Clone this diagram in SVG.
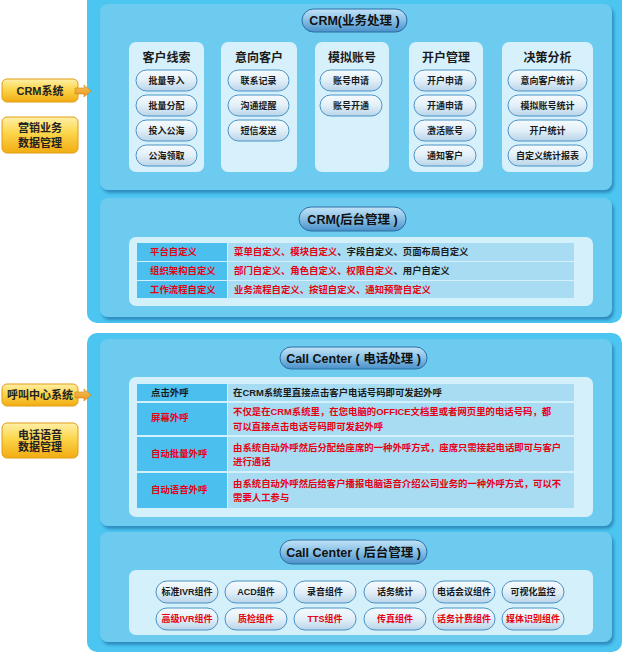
<svg xmlns="http://www.w3.org/2000/svg" width="623" height="654" viewBox="0 0 623 654">
<defs>
<linearGradient id="gBtn" x1="0" y1="0" x2="0" y2="1"><stop offset="0" stop-color="#f6fbfe"/><stop offset="0.5" stop-color="#e2eff8"/><stop offset="1" stop-color="#b9d4e9"/></linearGradient>
<linearGradient id="gPill" x1="0" y1="0" x2="0" y2="1"><stop offset="0" stop-color="#c2e3f7"/><stop offset="0.5" stop-color="#86bfe6"/><stop offset="1" stop-color="#4a90c9"/></linearGradient>
<linearGradient id="gLbl" x1="0" y1="0" x2="0" y2="1"><stop offset="0" stop-color="#fff0a8"/><stop offset="0.45" stop-color="#fbd54a"/><stop offset="1" stop-color="#f2ac12"/></linearGradient>
<linearGradient id="gArr" x1="0" y1="0" x2="0" y2="1"><stop offset="0" stop-color="#f7c259"/><stop offset="1" stop-color="#e8951a"/></linearGradient>
<filter id="sh" x="-5%" y="-5%" width="112%" height="115%"><feDropShadow dx="2" dy="3" stdDeviation="1.6" flood-color="#2379ad" flood-opacity="0.75"/></filter>
</defs>
<style>
text{font-family:"Liberation Sans","Noto Sans CJK SC",sans-serif;font-weight:bold;}
.outer{fill:#4cc5f1;}
.inner{fill:#6ccbef;filter:url(#sh);}
.box{fill:#d4f0fb;}
.card{fill:#d7f1fc;}
.btn{fill:url(#gBtn);stroke:#4a92c4;stroke-width:1;}
.pill{fill:url(#gPill);stroke:#2c6ea6;stroke-width:1;}
.lbl{fill:url(#gLbl);stroke:#e29c12;stroke-width:1;}
.lc{fill:#4bbfee;}
.rc{fill:#a7dcf3;}
.h{font-size:12px;fill:#1a1a1a;text-anchor:middle;}
.pt{font-size:12.5px;fill:#111;text-anchor:middle;}
.bt{font-size:9px;fill:#1a1a1a;text-anchor:middle;}
.bt.r{fill:#e60012;}
.tt{font-size:9.4px;fill:#1a1a1a;}
.r{fill:#e60012;}
.lt{font-size:11px;fill:#222;text-anchor:middle;}
.arr{fill:url(#gArr);stroke:#d9870f;stroke-width:0.6;}
</style>
<rect width="623" height="654" fill="#ffffff"/>

<g id="crm-panel">
<rect class="outer" x="87" y="-10" width="535" height="333" rx="10"/>
</g>
<g id="cc-panel">
<rect class="outer" x="87" y="333" width="535" height="319" rx="10"/>
</g>

<g id="crm-business">
<rect class="inner" x="100" y="4" width="512" height="186" rx="8"/>
<rect class="pill" x="302" y="9" width="105" height="23" rx="11.5"/>
<text class="pt" x="354.5" y="25">CRM(业务处理 )</text>
</g>

<g id="card-leads">
<rect class="card" x="129" y="42" width="75" height="130" rx="7"/>
<text class="h" x="166.5" y="62">客户线索</text>
<rect class="btn" x="136" y="70" width="61" height="21" rx="10.5"/><text class="bt" x="166.5" y="84">批量导入</text>
<rect class="btn" x="136" y="95" width="61" height="21" rx="10.5"/><text class="bt" x="166.5" y="109">批量分配</text>
<rect class="btn" x="136" y="120" width="61" height="21" rx="10.5"/><text class="bt" x="166.5" y="134">投入公海</text>
<rect class="btn" x="136" y="145" width="61" height="21" rx="10.5"/><text class="bt" x="166.5" y="159">公海领取</text>
</g>
<g id="card-intent">
<rect class="card" x="221" y="42" width="76" height="130" rx="7"/>
<text class="h" x="259" y="62">意向客户</text>
<rect class="btn" x="228" y="70" width="61" height="21" rx="10.5"/><text class="bt" x="258.5" y="84">联系记录</text>
<rect class="btn" x="228" y="95" width="61" height="21" rx="10.5"/><text class="bt" x="258.5" y="109">沟通提醒</text>
<rect class="btn" x="228" y="120" width="61" height="21" rx="10.5"/><text class="bt" x="258.5" y="134">短信发送</text>
</g>
<g id="card-account">
<rect class="card" x="315" y="42" width="74" height="130" rx="7"/>
<text class="h" x="352" y="62">模拟账号</text>
<rect class="btn" x="320" y="70" width="62" height="21" rx="10.5"/><text class="bt" x="351" y="84">账号申请</text>
<rect class="btn" x="320" y="95" width="62" height="21" rx="10.5"/><text class="bt" x="351" y="109">账号开通</text>
</g>
<g id="card-open">
<rect class="card" x="409" y="42" width="74" height="130" rx="7"/>
<text class="h" x="446" y="62">开户管理</text>
<rect class="btn" x="414" y="70" width="62" height="21" rx="10.5"/><text class="bt" x="445" y="84">开户申请</text>
<rect class="btn" x="414" y="95" width="62" height="21" rx="10.5"/><text class="bt" x="445" y="109">开通申请</text>
<rect class="btn" x="414" y="120" width="62" height="21" rx="10.5"/><text class="bt" x="445" y="134">激活账号</text>
<rect class="btn" x="414" y="145" width="62" height="21" rx="10.5"/><text class="bt" x="445" y="159">通知客户</text>
</g>
<g id="card-decision">
<rect class="card" x="502" y="42" width="91" height="130" rx="7"/>
<text class="h" x="547.5" y="62">决策分析</text>
<rect class="btn" x="508" y="70" width="79" height="21" rx="10.5"/><text class="bt" x="547.5" y="84">意向客户统计</text>
<rect class="btn" x="508" y="95" width="79" height="21" rx="10.5"/><text class="bt" x="547.5" y="109">模拟账号统计</text>
<rect class="btn" x="508" y="120" width="79" height="21" rx="10.5"/><text class="bt" x="547.5" y="134">开户统计</text>
<rect class="btn" x="508" y="145" width="79" height="21" rx="10.5"/><text class="bt" x="547.5" y="159">自定义统计报表</text>
</g>

<g id="crm-backend">
<rect class="inner" x="100" y="198" width="512" height="119" rx="8"/>
<rect class="pill" x="299" y="207" width="107" height="24" rx="12"/>
<text class="pt" x="352.5" y="223.5">CRM(后台管理 )</text>
<rect class="box" x="129" y="237" width="464" height="69" rx="7"/>
<rect class="lc" x="137" y="243" width="90" height="18"/><rect class="rc" x="228" y="243" width="346" height="18"/>
<rect class="lc" x="137" y="262" width="90" height="18"/><rect class="rc" x="228" y="262" width="346" height="18"/>
<rect class="lc" x="137" y="281" width="90" height="17"/><rect class="rc" x="228" y="281" width="346" height="17"/>
<text class="tt r" x="150" y="255.3">平台自定义</text>
<text class="tt" x="234" y="255.3"><tspan class="r">菜单自定义、模块自定义</tspan>、字段自定义、页面布局自定义</text>
<text class="tt r" x="150" y="274.3">组织架构自定义</text>
<text class="tt" x="234" y="274.3"><tspan class="r">部门自定义、角色自定义、权限自定义</tspan>、用户自定义</text>
<text class="tt r" x="150" y="292.8">工作流程自定义</text>
<text class="tt r" x="234" y="292.8">业务流程自定义、按钮自定义、通知预警自定义</text>
</g>

<g id="cc-phone">
<rect class="inner" x="100" y="339" width="512" height="187" rx="8"/>
<rect class="pill" x="280" y="347" width="147" height="22" rx="11"/>
<text class="pt" x="353.5" y="362.5">Call Center ( 电话处理 )</text>
<rect class="box" x="129" y="377" width="464" height="140" rx="7"/>
<rect class="lc" x="137" y="384" width="90" height="17"/><rect class="rc" x="228" y="384" width="346" height="17"/>
<rect class="lc" x="137" y="403" width="90" height="32"/><rect class="rc" x="228" y="403" width="346" height="32"/>
<rect class="lc" x="137" y="437" width="90" height="34"/><rect class="rc" x="228" y="437" width="346" height="34"/>
<rect class="lc" x="137" y="473" width="90" height="35"/><rect class="rc" x="228" y="473" width="346" height="35"/>
<text class="tt" x="151" y="396.3">点击外呼</text>
<text class="tt" x="233" y="396.3">在CRM系统里直接点击客户电话号码即可发起外呼</text>
<text class="tt r" x="151" y="421.3">屏幕外呼</text>
<text class="tt r" x="233" y="415">不仅是在CRM系统里，在您电脑的OFFICE文档里或者网页里的电话号码，都</text>
<text class="tt r" x="233" y="430">可以直接点击电话号码即可发起外呼</text>
<text class="tt r" x="151" y="457.3">自动批量外呼</text>
<text class="tt r" x="233" y="450.6">由系统自动外呼然后分配给座席的一种外呼方式，座席只需接起电话即可与客户</text>
<text class="tt r" x="233" y="465">进行通话</text>
<text class="tt r" x="151" y="493.3">自动语音外呼</text>
<text class="tt r" x="233" y="487.3">由系统自动外呼然后给客户播报电脑语音介绍公司业务的一种外呼方式，可以不</text>
<text class="tt r" x="233" y="501">需要人工参与</text>
</g>

<g id="cc-backend">
<rect class="inner" x="100" y="532" width="512" height="110" rx="8"/>
<rect class="pill" x="280" y="540" width="147" height="24" rx="12"/>
<text class="pt" x="353.5" y="556.5">Call Center ( 后台管理 )</text>
<rect class="box" x="129" y="570" width="464" height="65" rx="7"/>
<rect class="btn" x="156" y="581" width="62" height="22" rx="11"/><text class="bt" x="187" y="595.2">标准IVR组件</text>
<rect class="btn" x="225" y="581" width="62" height="22" rx="11"/><text class="bt" x="256" y="595.2">ACD组件</text>
<rect class="btn" x="294" y="581" width="62" height="22" rx="11"/><text class="bt" x="325" y="595.2">录音组件</text>
<rect class="btn" x="364" y="581" width="62" height="22" rx="11"/><text class="bt" x="395" y="595.2">话务统计</text>
<rect class="btn" x="433" y="581" width="62" height="22" rx="11"/><text class="bt" x="464" y="595.2">电话会议组件</text>
<rect class="btn" x="502" y="581" width="62" height="22" rx="11"/><text class="bt" x="533" y="595.2">可视化监控</text>
<rect class="btn" x="156" y="608" width="62" height="22" rx="11"/><text class="bt r" x="187" y="622.2">高级IVR组件</text>
<rect class="btn" x="225" y="608" width="62" height="22" rx="11"/><text class="bt r" x="256" y="622.2">质检组件</text>
<rect class="btn" x="294" y="608" width="62" height="22" rx="11"/><text class="bt r" x="325" y="622.2">TTS组件</text>
<rect class="btn" x="364" y="608" width="62" height="22" rx="11"/><text class="bt r" x="395" y="622.2">传真组件</text>
<rect class="btn" x="433" y="608" width="62" height="22" rx="11"/><text class="bt r" x="464" y="622.2">话务计费组件</text>
<rect class="btn" x="502" y="608" width="62" height="22" rx="11"/><text class="bt r" x="533" y="622.2">媒体识别组件</text>
</g>

<g id="label-crm">
<rect class="lbl" x="2" y="79" width="76" height="23" rx="5"/>
<text class="lt" x="40" y="94.5">CRM系统</text>
</g>
<g id="label-marketing">
<rect class="lbl" x="2" y="117" width="76" height="36" rx="5"/>
<text class="lt" x="40" y="132">营销业务</text>
<text class="lt" x="40" y="147">数据管理</text>
</g>
<g id="label-cc">
<rect class="lbl" x="2" y="384" width="76" height="22" rx="5"/>
<text class="lt" x="40" y="399">呼叫中心系统</text>
</g>
<g id="label-voice">
<rect class="lbl" x="2" y="423" width="76" height="35" rx="5"/>
<text class="lt" x="40" y="439">电话语音</text>
<text class="lt" x="40" y="451">数据管理</text>
</g>

<g id="connectors">
<polygon class="arr" points="75,88 84,88 84,85 91,91 84,97 84,94 75,94"/>
<polygon class="arr" points="75,392 84,392 84,389 91,395 84,401 84,398 75,398"/>
</g>
</svg>
